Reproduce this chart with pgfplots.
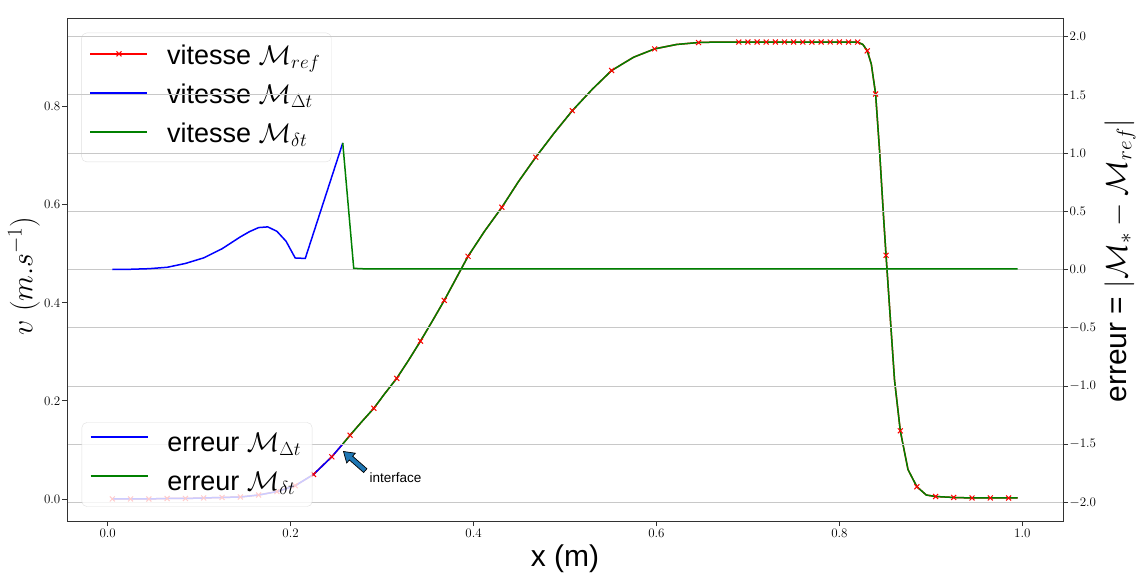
\RequirePackage{fix-cm}
\documentclass[border=0pt]{standalone}
\usepackage[no-math]{fontspec}
\setmainfont{Liberation Sans}
\usepackage{pgfplots}
\pgfplotsset{compat=1.18}
\definecolor{spine}{RGB}{50,50,50}
\definecolor{gridc}{RGB}{200,200,200}
\definecolor{legc}{RGB}{215,215,215}
\definecolor{arrowc}{RGB}{31,119,180}
\begin{document}
\begin{tikzpicture}
\path[use as bounding box] (-67pt,-53pt) rectangle (1072pt,521pt);
\pgfplotsset{
  common/.style={
    scale only axis, width=996pt, height=503pt,
    at={(0pt,0pt)}, anchor=south west,
    xmin=-0.0445, xmax=1.0445,
    tick align=outside, major tick length=5pt,
    tick style={spine, line width=0.8pt},
    axis line style={spine, line width=0.9pt},
    tick label style={font=\fontsize{13}{15}\selectfont,
      /pgf/number format/fixed, /pgf/number format/fixed zerofill, /pgf/number format/precision=1},
    yticklabel style={inner xsep=1.5pt},
  },
  legend image code/.code={\draw[mark repeat=2,mark phase=2,line width=1.5pt,draw opacity=1,#1] plot coordinates {(0pt,4.5pt) (28.5pt,4.5pt) (57pt,4.5pt)};},
  mylegend/.style={
    legend cell align=left,
    legend style={draw=legc, rounded corners=5pt, fill=white, fill opacity=0.8, draw opacity=0.8, text opacity=1,
      font=\fontsize{27}{32}\selectfont, inner xsep=8pt, inner ysep=5pt, row sep=4pt, column sep=16pt,
      nodes={text height=21pt, text depth=8pt, inner sep=3pt}},
  },
}
\begin{axis}[common, mylegend,
  ymin=-0.045, ymax=0.981,
  xtick={0,0.2,0.4,0.6,0.8,1.0}, ytick={0,0.2,0.4,0.6,0.8},
  xtick pos=bottom, ytick pos=left,
  xlabel={x (m)}, xlabel style={font=\fontsize{30}{36}\selectfont},
  ylabel={$v\ (m.s^{-1})$}, ylabel style={font=\fontsize{30}{36}\selectfont, at={(axis description cs:-0.0432,0.487)}, anchor=center},
  legend style={at={(0.01456,0.9708)}, anchor=north west, inner ysep=8pt},
]
\addplot[red, line width=1.5pt, mark=x, mark size=3.5pt, mark options={solid, line width=1pt},
  mark indices={1,2,3,4,5,6,7,8,9,10,11,12,13,15,17,19,21,23,25,27,29,31,33,35,37,39,40,41,42,43,44,45,46,47,48,49,50,51,52,54,56,59,61,63,65,66,67,68,69},
  legend image post style={mark indices={2}}] coordinates {
(0.005,0.000) (0.025,0.000) (0.045,0.000) (0.065,0.001) (0.085,0.001) (0.105,0.002)
(0.125,0.003) (0.145,0.004) (0.165,0.008) (0.185,0.015) (0.205,0.027) (0.225,0.050)
(0.245,0.086) (0.257,0.112) (0.265,0.130) (0.278,0.158) (0.291,0.185) (0.303,0.215)
(0.316,0.246) (0.329,0.283) (0.342,0.322) (0.355,0.363) (0.368,0.405) (0.381,0.450)
(0.394,0.495) (0.412,0.546) (0.431,0.595) (0.449,0.647) (0.468,0.697) (0.488,0.746)
(0.508,0.792) (0.530,0.836) (0.551,0.874) (0.575,0.901) (0.598,0.918) (0.622,0.927)
(0.646,0.931) (0.668,0.932) (0.690,0.932) (0.700,0.932) (0.710,0.932) (0.720,0.932)
(0.730,0.932) (0.740,0.932) (0.750,0.932) (0.760,0.932) (0.770,0.932) (0.780,0.932)
(0.790,0.932) (0.800,0.932) (0.810,0.932) (0.820,0.932) (0.8257,0.927) (0.8305,0.914)
(0.8349,0.887) (0.8396,0.826) (0.8439,0.711) (0.8483,0.575) (0.851,0.497) (0.8603,0.242)
(0.8666,0.139) (0.875,0.060) (0.8847,0.025) (0.895,0.008) (0.9052,0.005) (0.925,0.003)
(0.945,0.002) (0.965,0.002) (0.985,0.002) (0.995,0.002)
};
\addlegendentry{vitesse $\mathcal{M}_{ref}$}
\addplot[blue, line width=1.5pt] coordinates {
(0.005,0.000) (0.025,0.000) (0.045,0.000) (0.065,0.001) (0.085,0.001) (0.105,0.002)
(0.125,0.003) (0.145,0.004) (0.165,0.008) (0.185,0.015) (0.205,0.027) (0.225,0.050)
(0.245,0.086) (0.257,0.112)
};
\addlegendentry{vitesse $\mathcal{M}_{\Delta t}$}
\addplot[green!50!black, line width=1.5pt] coordinates {
(0.257,0.112) (0.265,0.130) (0.278,0.158) (0.291,0.185) (0.303,0.215) (0.316,0.246)
(0.329,0.283) (0.342,0.322) (0.355,0.363) (0.368,0.405) (0.381,0.450) (0.394,0.495)
(0.412,0.546) (0.431,0.595) (0.449,0.647) (0.468,0.697) (0.488,0.746) (0.508,0.792)
(0.530,0.836) (0.551,0.874) (0.575,0.901) (0.598,0.918) (0.622,0.927) (0.646,0.931)
(0.668,0.932) (0.690,0.932) (0.820,0.932) (0.8257,0.927) (0.8305,0.914) (0.8349,0.887)
(0.8396,0.826) (0.8439,0.711) (0.8483,0.575) (0.851,0.497) (0.8603,0.242) (0.8666,0.139)
(0.875,0.060) (0.8847,0.025) (0.895,0.008) (0.9052,0.005) (0.925,0.003) (0.945,0.002)
(0.965,0.002) (0.985,0.002) (0.995,0.002)
};
\addlegendentry{vitesse $\mathcal{M}_{\delta t}$}
\end{axis}
\begin{axis}[common, mylegend,
  legend image code/.code={\draw[mark repeat=2,mark phase=2,line width=1.5pt,draw opacity=1,#1] plot coordinates {(0pt,8pt) (28.5pt,8pt) (57pt,8pt)};},
  ymin=-2.16, ymax=2.16,
  hide x axis,
  ytick={-2,-1.5,-1,-0.5,0,0.5,1,1.5,2},
  ytick pos=right, yticklabel pos=right,
  ymajorgrids, major grid style={gridc, line width=0.8pt},
  ylabel={erreur = $|\mathcal{M}_* - \mathcal{M}_{ref}|$},
  ylabel style={font=\fontsize{30}{36}\selectfont, at={(axis description cs:1.0572,0.517)}, anchor=center},
  legend style={at={(0.01476,0.0284)}, anchor=south west},
]
\addplot[blue, line width=1.5pt] coordinates {
(0.005,0.000) (0.025,0.002) (0.045,0.007) (0.065,0.019) (0.085,0.052) (0.105,0.100)
(0.125,0.178) (0.145,0.280) (0.155,0.325) (0.165,0.360) (0.175,0.366) (0.185,0.328)
(0.195,0.243) (0.205,0.099) (0.216,0.095) (0.257,1.087)
};
\addlegendentry{erreur $\mathcal{M}_{\Delta t}$}
\addplot[green!50!black, line width=1.5pt] coordinates {
(0.257,1.087) (0.269,0.010) (0.280,0.006) (0.995,0.006)
};
\addlegendentry{erreur $\mathcal{M}_{\delta t}$}
\node[anchor=south east, font=\fontsize{9}{10}\selectfont, inner sep=1pt] at (rel axis cs:1,1) {$\times10^{-5}$};
\draw[fill=arrowc, draw=black, line width=0.7pt, shift={(axis cs:0.2578,-1.563)}, rotate=138.7]
  (0pt,0pt) -- (-10pt,6.5pt) -- (-10pt,2.5pt) -- (-29pt,2.5pt) -- (-29pt,-2.5pt) -- (-10pt,-2.5pt) -- (-10pt,-6.5pt) -- cycle;
\node[anchor=west, font=\fontsize{13.5}{16}\selectfont, inner sep=0pt] at (axis cs:0.2862,-1.789) {interface};
\end{axis}
\end{tikzpicture}
\end{document}
